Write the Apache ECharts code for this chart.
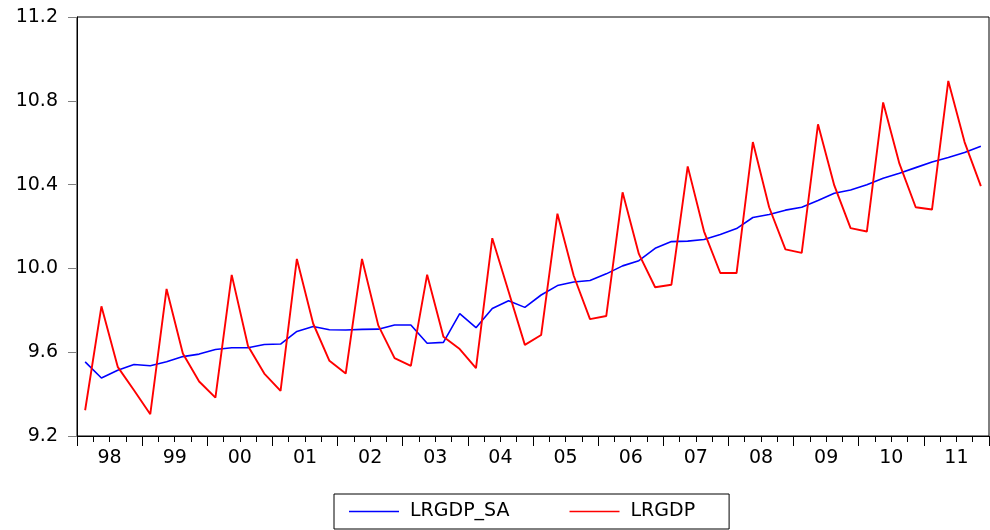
<!DOCTYPE html>
<html>
<head>
<meta charset="utf-8">
<script src="https://cdn.jsdelivr.net/npm/echarts@6/dist/echarts.min.js"></script>
<style>html,body{margin:0;padding:0;background:#fff;}#c{width:990px;height:530px;}</style>
</head>
<body>
<div id="c"></div>
<script>
var years = ['98','99','00','01','02','03','04','05','06','07','08','09','10','11'];
var yTicks = [9.2, 9.6, 10.0, 10.4, 10.8, 11.2];
var lrgdpSA = [9.554,9.477,9.514,9.541, 9.535,9.554,9.579,9.591, 9.613,9.621,9.621,9.637,
  9.639,9.699,9.723,9.707, 9.706,9.709,9.710,9.730, 9.730,9.643,9.647,9.784,
  9.717,9.809,9.846,9.814, 9.873,9.918,9.935,9.942, 9.974,10.012,10.037,10.096,
  10.128,10.130,10.138,10.162, 10.190,10.243,10.257,10.278, 10.292,10.324,10.359,10.374,
  10.399,10.430,10.454,10.481, 10.508,10.529,10.553,10.583];
var lrgdp = [9.323,9.819,9.530,9.418, 9.304,9.902,9.594,9.460, 9.383,9.969,9.630,9.498,
  9.415,10.045,9.737,9.559, 9.498,10.045,9.728,9.572, 9.535,9.970,9.674,9.615,
  9.524,10.144,9.890,9.635, 9.682,10.261,9.965,9.758, 9.773,10.363,10.069,9.910,
  9.922,10.487,10.177,9.978, 9.978,10.603,10.292,10.091, 10.074,10.688,10.396,10.192,
  10.176,10.792,10.500,10.292, 10.281,10.895,10.603,10.393];

var quarters = [];
years.forEach(function(y){ for (var q=1;q<=4;q++) quarters.push(y+'Q'+q); });

var FONT = 'DejaVu Sans';
var chart = echarts.init(document.getElementById('c'), null, {renderer:'canvas'});
chart.setOption({
  animation:false,
  backgroundColor:'#fff',
  grid:{left:77, top:17, right:1, bottom:94, show:true, borderColor:'#000', borderWidth:1, backgroundColor:'transparent'},
  xAxis:[{
    type:'category', data:quarters, boundaryGap:true, position:'bottom', offset:0,
    axisLine:{show:true, lineStyle:{color:'#000', width:1}},
    axisTick:{show:true, interval:0, length:6, lineStyle:{color:'#000'}},
    axisLabel:{show:false},
    splitLine:{show:false}
  },{
    type:'category', data:years, boundaryGap:true, position:'bottom', offset:0,
    axisLine:{show:false},
    axisTick:{show:true, interval:0, length:10, lineStyle:{color:'#000'}},
    axisLabel:{show:true, interval:0, margin:13, color:'#000', fontFamily:FONT, fontSize:19},
    splitLine:{show:false}
  }],
  yAxis:{
    type:'value', min:yTicks[0], max:yTicks[yTicks.length-1], interval:0.4,
    axisLine:{show:true, lineStyle:{color:'#000'}},
    axisTick:{show:true, length:9, lineStyle:{color:'#808080'}},
    axisLabel:{margin:19, color:'#000', fontFamily:FONT, fontSize:19, formatter:function(v){return v.toFixed(1);}},
    splitLine:{show:false}
  },
  legend:{
    left:334, top:494, orient:'horizontal',
    padding:[8,34,8,15], itemGap:60,
    borderColor:'#000', borderWidth:1, borderRadius:0,
    icon:'rect', itemWidth:50, itemHeight:1.5,
    textStyle:{color:'#000', fontFamily:FONT, fontSize:19, padding:[0,0,0,6]},
    data:['LRGDP_SA','LRGDP']
  },
  series:[{
    name:'LRGDP_SA', type:'line', data:lrgdpSA, xAxisIndex:0, showSymbol:false, symbol:'none',
    lineStyle:{color:'#0000ff', width:1.6}, itemStyle:{color:'#0000ff'}
  },{
    name:'LRGDP', type:'line', data:lrgdp, xAxisIndex:0, showSymbol:false, symbol:'none',
    lineStyle:{color:'#ff0000', width:1.9}, itemStyle:{color:'#ff0000'}
  }]
});
</script>
</body>
</html>
